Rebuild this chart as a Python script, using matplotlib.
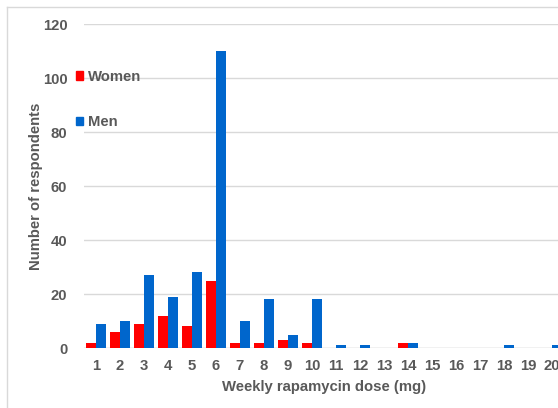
import matplotlib
matplotlib.use("Agg")
import matplotlib.pyplot as plt
from matplotlib.patches import Patch
from matplotlib.lines import Line2D
import numpy as np

doses = [str(i) for i in range(1, 21)]
women = [2, 6, 9, 12, 8, 25, 2, 2, 3, 2, 0, 0, 0, 2, 0, 0, 0, 0, 0, 0]
men = [9, 10, 27, 19, 28, 110, 10, 18, 5, 18, 1, 1, 0, 2, 0, 0, 0, 1, 0, 1]

plt.rcParams['font.family'] = ['Liberation Sans', 'DejaVu Sans']
plt.rcParams['font.weight'] = 'bold'
txt = '#595959'
fs = 10.75
W, H = 558, 408
fig = plt.figure(figsize=(W/100, H/100), dpi=100)
ax = fig.add_axes([84/W, 60/H, 480/W, 324/H])

x = np.arange(1, len(doses) + 1)
ax.bar(x - 0.2, women, width=0.4, color='#FF0000', label='Women', zorder=3)
ax.bar(x + 0.2, men, width=0.4, color='#0066CC', label='Men', zorder=3)

ax.set_xlim(0.5, 20.5)
ax.set_ylim(0, 120)
ax.set_yticks(range(0, 121, 20))
ax.set_xticks(x)
ax.set_xticklabels(doses)
ax.grid(axis='y', color='#D9D9D9', lw=1, zorder=0)
for s in ax.spines.values():
    s.set_visible(False)
ax.axhline(0, color='#D9D9D9', lw=1, zorder=1)
ax.tick_params(length=0, labelsize=fs, labelcolor=txt)
ax.tick_params(axis='y', pad=12)
ax.tick_params(axis='x', pad=8)
ax.set_xlabel('Weekly rapamycin dose (mg)', fontsize=fs, color=txt, fontweight='bold', labelpad=5)
ax.set_ylabel('Number of respondents', fontsize=fs, color=txt, fontweight='bold', labelpad=0)

handles = [Patch(color='#FF0000'), Patch(color='#0066CC')]
fig.legend(handles, ['Women', 'Men'], loc='upper left', bbox_to_anchor=(76/W, 1 - 70/H),
           frameon=False, labelcolor=txt, handlelength=0.5, handleheight=0.5,
           handletextpad=0.3, labelspacing=2.1, borderpad=0, borderaxespad=0,
           prop={'weight': 'bold', 'size': fs})

fig.add_artist(Line2D([7/W, 7/W], [0, 1 - 7/H], color='#D9D9D9', lw=1, transform=fig.transFigure))
fig.add_artist(Line2D([7/W, 1], [1 - 7/H, 1 - 7/H], color='#D9D9D9', lw=1, transform=fig.transFigure))

fig.savefig('out.png', dpi=100)
